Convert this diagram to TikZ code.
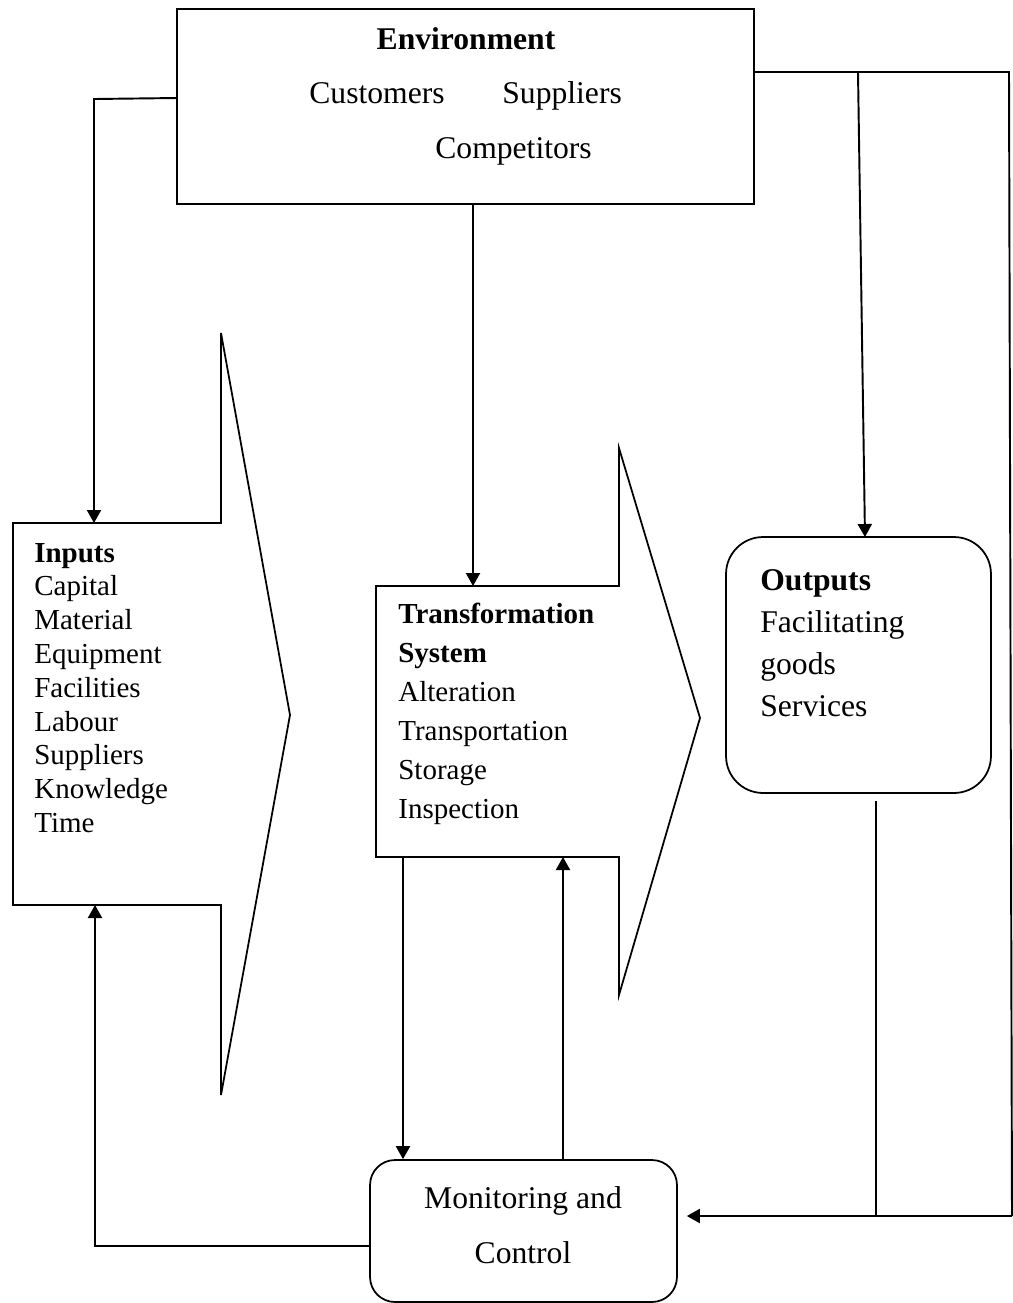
\documentclass[tikz,border=0pt]{standalone}
\usepackage{fontspec}
\setmainfont{Liberation Serif}
\usetikzlibrary{arrows.meta,positioning}
\tikzset{
  box/.style={draw=black, line width=1pt, inner sep=0pt},
  block/.style={draw=black, line width=1pt, line join=miter},
  link/.style={draw=black, line width=1.1pt},
  arr/.style={link, -{Triangle[length=7.4pt,width=8pt]}},
  bighead/.style={font=\fontsize{18}{22}\selectfont\bfseries, inner sep=0pt, anchor=base west},
  bigtxt/.style={font=\fontsize{18}{22}\selectfont, inner sep=0pt, anchor=base west},
  smhead/.style={font=\fontsize{16.5}{20}\selectfont\bfseries, inner sep=0pt, anchor=base west},
  smtxt/.style={font=\fontsize{16.5}{20}\selectfont, inner sep=0pt, anchor=base west},
}

\begin{document}
\begin{tikzpicture}[x=0.02cm, y=-0.02cm]
  \useasboundingbox (0,0) rectangle (1013,1303);

  % environment
  \node[box, minimum width=11.54cm, minimum height=3.9cm] (env) at (465.5,106.5) {};
  \node[bighead, anchor=base] (envhead) at (466,49) {Environment};
  \node[bigtxt] (cust) at (309,103) {Customers};
  \node[bigtxt] (supp) at (502,103) {Suppliers};
  \node[bigtxt] (comp) at (435,158) {Competitors};

  % inputs arrow
  \draw[block] (13,523) -- (221,523) -- (221,333) -- (290,715) -- (221,1095)
    -- (221,905) -- (13,905) -- cycle;
  \node[smhead] (inhead) at (34,562) {Inputs};
  \foreach \w [count=\i] in {Capital,Material,Equipment,Facilities,Labour,Suppliers,Knowledge,Time}
    \node[smtxt] (in\i) at (34,{562+33.8*\i}) {\w};

  % transformation arrow
  \draw[block] (376,586) -- (619,586) -- (619,448) -- (700,718) -- (619,995)
    -- (619,857) -- (376,857) -- cycle;
  \node[smhead] (trhead) at (398,623) {Transformation};
  \node[smhead] (trhead2) at (398,662) {System};
  \foreach \w [count=\i] in {Alteration,Transportation,Storage,Inspection}
    \node[smtxt] (tr\i) at (398,{662+39*\i}) {\w};

  % outputs
  \node[box, rounded corners=0.74cm, minimum width=5.3cm, minimum height=5.12cm] (out) at (858.5,665) {};
  \node[bighead] (outhead) at (760,590) {Outputs};
  \foreach \w [count=\i] in {Facilitating,goods,Services}
    \node[bigtxt] (out\i) at (760,{590+42*\i}) {\w};

  % monitoring and control
  \node[box, rounded corners=0.5cm, minimum width=6.14cm, minimum height=2.84cm] (mon) at (523.5,1231) {};
  \node[bigtxt, anchor=base] (mon1) at (523,1208) {Monitoring and};
  \node[bigtxt, anchor=base] (mon2) at (523,1263) {Control};

  % connector ends
  \coordinate (envl) at (177,98);
  \coordinate (envr) at (754,72);
  \coordinate (envb) at (473,204);
  \coordinate (intop) at (94,523);
  \coordinate (inbot) at (95,905);
  \coordinate (trtop) at (473,586);
  \coordinate (trbl) at (403,857);
  \coordinate (trbr) at (563,857);
  \coordinate (outtop) at (865,537);
  \coordinate (outbot) at (876,801);
  \coordinate (rc) at (1012,1216);
  \coordinate (ob) at (876,1216);
  \coordinate (monl) at (370,1246);

  \draw[arr] (envl) -- (94,99) -- (intop);
  \draw[arr] (envb) -- (trtop);
  \draw[link] (envr) -- (1009,72) -- (rc);
  \draw[arr] (858,72) -- (outtop);
  \draw[link] (outbot) -- (ob);
  \draw[arr, shorten >=0.18cm] (rc) -- (mon.east |- rc);
  \draw[arr] (trbl) -- (trbl |- mon.north);
  \draw[arr] (trbr |- mon.north) -- (trbr);
  \draw[arr] (monl) -- (95,1246) -- (inbot);
\end{tikzpicture}
\end{document}
